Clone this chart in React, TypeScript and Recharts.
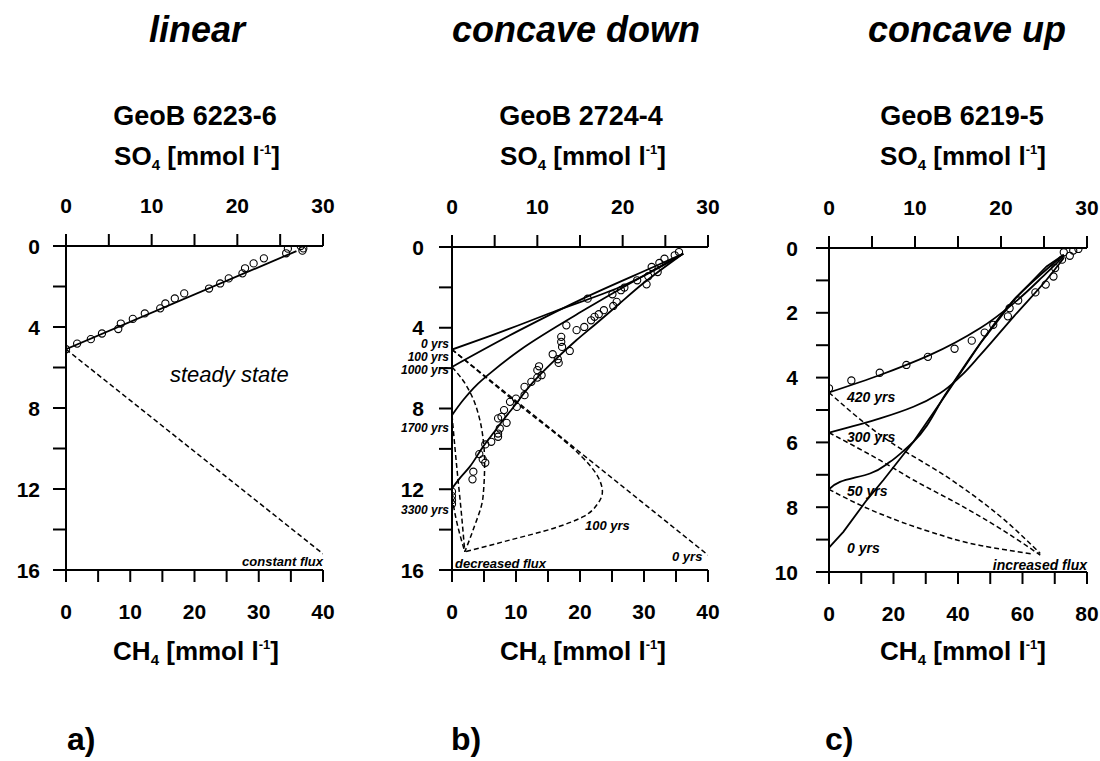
import React from 'react';
import { ComposedChart, Scatter, XAxis, YAxis } from 'recharts';

const FONT = '"Liberation Sans", Arial, Helvetica, sans-serif';

type Pt = [number, number]; // [concentration, depth]

// ---------------- Panel a: linear (GeoB 6223-6) ----------------
const aSo4Ticks = [0, 5, 10, 15, 20, 25, 30];
const aSo4Labels = [0, 10, 20, 30];
const aCh4Ticks = [0, 5, 10, 15, 20, 25, 30, 35, 40];
const aCh4Labels = [0, 10, 20, 30, 40];
const aDepthTicks = [0, 2, 4, 6, 8, 10, 12, 14, 16];
const aDepthLabels = [0, 4, 8, 12, 16];
const aSo4Measured: Pt[] = [
  [27.4, 0], [27.7, 0.12], [27.6, 0.23], [25.9, 0.13], [25.7, 0.36], [23.1, 0.61],
  [21.9, 0.86], [20.9, 1.1], [20.6, 1.35], [19.0, 1.6], [18.0, 1.85], [16.7, 2.1],
  [13.8, 2.34], [12.7, 2.59], [11.6, 2.84], [11.0, 3.08], [9.2, 3.33], [7.8, 3.6],
  [6.4, 3.83], [6.1, 4.1], [4.2, 4.32], [2.9, 4.6], [1.3, 4.82], [0, 5.1],
];
const aSo4Model: Pt[] = [[26.9, 0.25], [0, 5.1]];
const aCh4Model: Pt[] = [[0, 5.1], [40, 15.2]];

// ---------------- Panel b: concave down (GeoB 2724-4) ----------------
const bSo4Ticks = [0, 5, 10, 15, 20, 25, 30];
const bSo4Labels = [0, 10, 20, 30];
const bCh4Ticks = [0, 5, 10, 15, 20, 25, 30, 35, 40];
const bCh4Labels = [0, 10, 20, 30, 40];
const bDepthTicks = [0, 2, 4, 6, 8, 10, 12, 14, 16];
const bDepthLabels = [0, 4, 8, 12, 16];
const bSo4Measured: Pt[] = [
  [26.6, 0.25], [26.1, 0.41], [24.9, 0.58], [24.3, 0.79], [24.1, 1.24], [23.4, 0.99],
  [23.0, 1.45], [22.8, 1.85], [21.7, 1.65], [20.2, 2.01], [19.8, 2.14], [18.8, 2.34],
  [19.3, 2.72], [18.9, 2.92], [17.8, 3.13], [17.2, 3.33], [16.7, 3.46], [16.3, 3.63],
  [15.9, 2.56], [15.5, 3.96], [14.6, 4.12], [13.4, 3.88], [12.8, 4.45], [12.8, 4.7],
  [12.9, 4.95], [13.8, 5.15], [11.8, 5.31], [12.4, 5.56], [12.5, 5.74], [10.2, 5.91],
  [10.0, 6.1], [10.5, 6.35], [10.0, 6.47], [9.3, 6.68], [8.5, 6.93], [8.5, 7.34],
  [7.5, 7.51], [6.8, 7.67], [7.6, 7.92], [6.1, 8.08], [5.8, 8.41], [5.4, 8.49],
  [6.4, 8.71], [5.6, 8.99], [5.4, 9.24], [5.4, 9.4], [4.6, 9.65], [3.9, 9.78],
  [3.2, 10.26], [3.6, 10.52], [3.9, 10.69], [2.5, 11.13], [2.4, 11.51],
  [0, 12.12], [0, 12.34], [0, 12.54], [0, 12.73],
];
const bSo4Yr0: Pt[] = [[27.1, 0.33], [19.7, 1.98], [11.85, 3.22], [4.0, 4.48], [0, 5.08]];
const bSo4Yr100: Pt[] = [[27.1, 0.33], [23.6, 0.99], [15.77, 2.47], [7.94, 4.12], [0, 5.94]];
const bSo4Yr1700: Pt[] = [
  [27.1, 0.33], [23.6, 1.15], [15.77, 3.05], [7.94, 5.11], [4.41, 6.27], [2.85, 6.85], [1.29, 7.59], [0, 8.33],
];
const bSo4Yr3300: Pt[] = [
  [27.07, 0.33], [22.38, 1.81], [19.26, 2.94], [16.91, 3.79], [14.57, 4.62], [12.23, 5.53],
  [10.27, 6.35], [8.71, 7.09], [7.54, 7.75], [5.98, 8.58], [4.8, 9.24], [3.63, 9.9],
  [2.07, 10.89], [0.9, 11.46], [0, 11.96],
];
const bCh4Yr0: Pt[] = [[0, 5.08], [40, 15.26]];
const bCh4Yr100: Pt[] = [
  [0, 5.08], [10, 7.7], [20, 10.3], [21.5, 10.8], [22.8, 11.38], [23.5, 12.12], [22.8, 12.7],
  [20.5, 13.36], [15.8, 13.94], [9.0, 14.52], [2.0, 15.1],
];
const bCh4Yr1000: Pt[] = [
  [0, 5.94], [1.7, 6.6], [3.2, 7.45], [4.3, 8.5], [4.9, 9.6], [5.1, 10.7], [4.85, 12.37], [3.29, 14.02], [2.0, 15.1],
];
const bCh4Yr1700: Pt[] = [[0, 8.33], [0.69, 10.72], [1.47, 13.2], [2.0, 15.1]];
const bCh4Yr3300: Pt[] = [[0, 12.4], [0.8, 13.7], [2.0, 15.1]];

// ---------------- Panel c: concave up (GeoB 6219-5) ----------------
const cSo4Ticks = [0, 5, 10, 15, 20, 25, 30];
const cSo4Labels = [0, 10, 20, 30];
const cCh4Ticks = [0, 10, 20, 30, 40, 50, 60, 70, 80];
const cCh4Labels = [0, 20, 40, 60, 80];
const cDepthTicks = [0, 1, 2, 3, 4, 5, 6, 7, 8, 9, 10];
const cDepthLabels = [0, 2, 4, 6, 8, 10];
const cSo4Measured: Pt[] = [
  [29.0, 0.03], [28.4, 0.08], [27.3, 0.13], [28.0, 0.24], [27.1, 0.36], [26.3, 0.62],
  [26.1, 0.88], [25.2, 1.13], [24.0, 1.37], [22.0, 1.62], [21.0, 1.86], [20.8, 2.11],
  [19.1, 2.37], [18.1, 2.61], [16.6, 2.86], [14.6, 3.11], [11.5, 3.36], [9.0, 3.61],
  [5.9, 3.85], [2.6, 4.09], [0, 4.33],
];
const cSo4Yr420: Pt[] = [[27.3, 0.26], [25.3, 0.77], [21.5, 1.7], [17.6, 2.47], [11.76, 3.3], [5.94, 3.92], [0, 4.46]];
const cSo4Yr300: Pt[] = [
  [27.3, 0.31], [25.3, 0.98], [21.5, 2.11], [17.6, 3.3], [15.25, 3.97], [12.9, 4.48], [9.82, 4.9], [5.94, 5.26], [0, 5.7],
];
const cSo4Yr50: Pt[] = [
  [27.3, 0.21], [21.5, 1.6], [17.6, 2.94], [13.7, 4.45], [9.82, 5.98], [8.5, 6.3], [7.1, 6.6], [4.77, 6.96], [1.28, 7.22], [0, 7.45],
];
const cSo4Yr0: Pt[] = [
  [27.3, 0.21], [25.3, 0.57], [21.5, 1.6], [17.6, 2.94], [13.7, 4.48], [9.82, 5.98], [6.33, 7.16], [4.39, 7.78], [1.67, 8.76], [0, 9.25],
];
const cCh4Yr420: Pt[] = [[0, 4.46], [18.9, 5.98], [36.5, 7.06], [52.1, 8.2], [65.5, 9.43]];
const cCh4Yr300: Pt[] = [[0, 5.7], [15.8, 6.55], [26.2, 7.16], [41.7, 7.99], [57.2, 8.92], [65.5, 9.48]];
const cCh4Yr50: Pt[] = [[0, 7.45], [15.8, 8.2], [31.4, 8.76], [46.9, 9.18], [63.4, 9.45]];

// ---------------- rendering helpers ----------------
type Kind = 'points' | 'solid' | 'dashed';
interface Series { data: Pt[]; axis: 'top' | 'bottom'; kind: Kind; curve?: string }
interface Rect { left: number; top: number; right: number; bottom: number }

const toObjs = (pts: Pt[]) => pts.map(([x, y]) => ({ x, y }));
const NoShape = () => <g />;
const Ring = (p: any) => <circle cx={p.cx} cy={p.cy} r={3.6} fill="none" stroke="#000" strokeWidth={1.1} />;

const tickFont = { fontFamily: FONT, fontWeight: 700, fontSize: 21, fill: '#000' };

const makeTick = (labels: number[], side: 'top' | 'bottom' | 'left') => (props: any) => {
  const { x, y, payload } = props;
  const v = payload?.value;
  if (!labels.includes(v)) return <g />;
  if (side === 'top') return <text x={x} y={y} textAnchor="middle" {...tickFont}>{v}</text>;
  if (side === 'bottom') return <text x={x} y={y + 16} textAnchor="middle" {...tickFont}>{v}</text>;
  return <text x={x} y={y + 7.5} textAnchor="end" {...tickFont}>{v}</text>;
};

const axisStroke = { stroke: '#000', strokeWidth: 2 };

interface PanelProps {
  plot: Rect;
  topDomain: number[]; topTicks: number[]; topLabels: number[];
  botDomain: number[]; botTicks: number[]; botLabels: number[];
  yDomain: number[]; yTicks: number[]; yLabels: number[]; yMargin: number;
  series: Series[];
}

function Panel(p: PanelProps) {
  const ML = 80, MT = 60, MR = 24, MB = 60;
  const w = p.plot.right - p.plot.left + ML + MR;
  const h = p.plot.bottom - p.plot.top + MT + MB;
  return (
    <div style={{ position: 'absolute', left: p.plot.left - ML, top: p.plot.top - MT, width: w, height: h }}>
      <ComposedChart width={w} height={h} margin={{ top: MT - 40, left: ML - 60, right: MR, bottom: MB - 40 }}>
        <XAxis xAxisId="top" orientation="top" type="number" dataKey="x" domain={p.topDomain as any}
          ticks={p.topTicks} interval={0} height={40} allowDataOverflow tickSize={12} tickMargin={21}
          axisLine={axisStroke} tickLine={axisStroke} tick={makeTick(p.topLabels, 'top')} />
        <XAxis xAxisId="bottom" orientation="bottom" type="number" dataKey="x" domain={p.botDomain as any}
          ticks={p.botTicks} interval={0} height={40} allowDataOverflow tickSize={12} tickMargin={21}
          axisLine={axisStroke} tickLine={axisStroke} tick={makeTick(p.botLabels, 'bottom')} />
        <YAxis yAxisId="d" type="number" dataKey="y" domain={p.yDomain as any} reversed
          ticks={p.yTicks} interval={0} width={60} allowDataOverflow tickSize={13} tickMargin={p.yMargin}
          axisLine={axisStroke} tickLine={axisStroke} tick={makeTick(p.yLabels, 'left')} />
        {p.series.map((s, i) =>
          s.kind === 'points' ? (
            <Scatter key={i} data={toObjs(s.data)} xAxisId={s.axis} yAxisId="d" shape={Ring}
              isAnimationActive={false} legendType="none" />
          ) : (
            <Scatter key={i} data={toObjs(s.data)} xAxisId={s.axis} yAxisId="d" shape={NoShape}
              line={{
                stroke: '#000',
                strokeWidth: s.kind === 'solid' ? 1.8 : 1.5,
                strokeDasharray: s.kind === 'dashed' ? '5 3' : undefined,
                fill: 'none',
              } as any}
              lineJointType={(s.curve ?? 'linear') as any}
              isAnimationActive={false} legendType="none" />
          )
        )}
      </ComposedChart>
    </div>
  );
}

const panelA: Series[] = [
  { data: aSo4Model, axis: 'top', kind: 'solid' },
  { data: aCh4Model, axis: 'bottom', kind: 'dashed' },
  { data: aSo4Measured, axis: 'top', kind: 'points' },
];
const panelB: Series[] = [
  { data: bSo4Yr0, axis: 'top', kind: 'solid', curve: 'monotoneY' },
  { data: bSo4Yr100, axis: 'top', kind: 'solid', curve: 'monotoneY' },
  { data: bSo4Yr1700, axis: 'top', kind: 'solid', curve: 'monotoneY' },
  { data: bSo4Yr3300, axis: 'top', kind: 'solid', curve: 'monotoneY' },
  { data: bCh4Yr0, axis: 'bottom', kind: 'dashed' },
  { data: bCh4Yr100, axis: 'bottom', kind: 'dashed', curve: 'monotoneY' },
  { data: bCh4Yr1000, axis: 'bottom', kind: 'dashed', curve: 'monotoneY' },
  { data: bCh4Yr1700, axis: 'bottom', kind: 'dashed', curve: 'monotoneY' },
  { data: bCh4Yr3300, axis: 'bottom', kind: 'dashed', curve: 'monotoneY' },
  { data: bSo4Measured, axis: 'top', kind: 'points' },
];
const panelC: Series[] = [
  { data: cSo4Yr420, axis: 'top', kind: 'solid', curve: 'monotoneY' },
  { data: cSo4Yr300, axis: 'top', kind: 'solid', curve: 'monotoneY' },
  { data: cSo4Yr50, axis: 'top', kind: 'solid', curve: 'monotoneY' },
  { data: cSo4Yr0, axis: 'top', kind: 'solid', curve: 'linear' },
  { data: cCh4Yr420, axis: 'bottom', kind: 'dashed', curve: 'monotoneY' },
  { data: cCh4Yr300, axis: 'bottom', kind: 'dashed', curve: 'monotoneY' },
  { data: cCh4Yr50, axis: 'bottom', kind: 'dashed', curve: 'monotoneY' },
  { data: cSo4Measured, axis: 'top', kind: 'points' },
];

const Unit = ({ x, y, chem, sub }: { x: number; y: number; chem: string; sub: string }) => (
  <text x={x} y={y} textAnchor="middle" fontFamily={FONT} fontWeight={700} fontSize={26} fill="#000">
    {chem}
    <tspan fontSize={15} dy={5}>{sub}</tspan>
    <tspan dy={-5}> [mmol l</tspan>
    <tspan fontSize={13} dy={-11}>-1</tspan>
    <tspan dy={11}>]</tspan>
  </text>
);

const Note = ({ x, y, t, anchor = 'start', size = 13 }: { x: number; y: number; t: string; anchor?: string; size?: number }) => (
  <text x={x} y={y} textAnchor={anchor as any} fontFamily={FONT} fontWeight={700} fontStyle="italic" fontSize={size} fill="#000">{t}</text>
);

export default function App() {
  const titleProps = { fontFamily: FONT, fontWeight: 700, fontStyle: 'italic', fontSize: 36, fill: '#000', textAnchor: 'middle' as const };
  const geoProps = { fontFamily: FONT, fontWeight: 700, fontSize: 27, fill: '#000', textAnchor: 'middle' as const };
  return (
    <div style={{ position: 'absolute', left: 0, top: 0, width: 1100, height: 761, background: '#fff', overflow: 'hidden' }}>
      <Panel plot={{ left: 66, top: 246, right: 323, bottom: 570 }}
        topDomain={[0, 30]} topTicks={aSo4Ticks} topLabels={aSo4Labels}
        botDomain={[0, 40]} botTicks={aCh4Ticks} botLabels={aCh4Labels}
        yDomain={[0, 16]} yTicks={aDepthTicks} yLabels={aDepthLabels} yMargin={13} series={panelA} />
      <Panel plot={{ left: 452, top: 247, right: 708, bottom: 570 }}
        topDomain={[0, 30]} topTicks={bSo4Ticks} topLabels={bSo4Labels}
        botDomain={[0, 40]} botTicks={bCh4Ticks} botLabels={bCh4Labels}
        yDomain={[0, 16]} yTicks={bDepthTicks} yLabels={bDepthLabels} yMargin={15} series={panelB} />
      <Panel plot={{ left: 829, top: 248, right: 1087, bottom: 572 }}
        topDomain={[0, 30]} topTicks={cSo4Ticks} topLabels={cSo4Labels}
        botDomain={[0, 80]} botTicks={cCh4Ticks} botLabels={cCh4Labels}
        yDomain={[0, 10]} yTicks={cDepthTicks} yLabels={cDepthLabels} yMargin={18} series={panelC} />
      <svg width={1100} height={761} style={{ position: 'absolute', left: 0, top: 0, pointerEvents: 'none' }}>
        <text x={197} y={42} {...titleProps}>linear</text>
        <text x={576} y={42} {...titleProps}>concave down</text>
        <text x={967} y={42} {...titleProps}>concave up</text>
        <text x={195} y={125} {...geoProps}>GeoB 6223-6</text>
        <text x={581} y={125} {...geoProps}>GeoB 2724-4</text>
        <text x={962} y={125} {...geoProps}>GeoB 6219-5</text>
        <Unit x={197} y={165} chem="SO" sub="4" />
        <Unit x={583} y={165} chem="SO" sub="4" />
        <Unit x={963} y={165} chem="SO" sub="4" />
        <Unit x={196} y={660} chem="CH" sub="4" />
        <Unit x={583} y={660} chem="CH" sub="4" />
        <Unit x={963} y={660} chem="CH" sub="4" />
        <text x={67} y={750} fontFamily={FONT} fontWeight={700} fontSize={32}>a)</text>
        <text x={451} y={750} fontFamily={FONT} fontWeight={700} fontSize={32}>b)</text>
        <text x={825} y={750} fontFamily={FONT} fontWeight={700} fontSize={32}>c)</text>

        <text x={170} y={382} fontFamily={FONT} fontStyle="italic" fontSize={22} fill="#000">steady state</text>
        <Note x={323} y={566} t="constant flux" anchor="end" />

        <Note x={449} y={348} t="0 yrs" anchor="end" size={12} />
        <Note x={449} y={361} t="100 yrs" anchor="end" size={12} />
        <Note x={449} y={374} t="1000 yrs" anchor="end" size={12} />
        <Note x={449} y={432} t="1700 yrs" anchor="end" size={12} />
        <Note x={449} y={514} t="3300 yrs" anchor="end" size={12} />
        <Note x={585} y={530} t="100 yrs" />
        <Note x={672} y={561} t="0 yrs" />
        <Note x={455} y={568} t="decreased flux" />

        <Note x={847} y={402} t="420 yrs" size={14} />
        <Note x={847} y={442} t="300 yrs" size={14} />
        <Note x={847} y={496} t="50 yrs" size={14} />
        <Note x={847} y={553} t="0 yrs" size={14} />
        <Note x={1087} y={570} t="increased flux" anchor="end" size={14} />
      </svg>
    </div>
  );
}
